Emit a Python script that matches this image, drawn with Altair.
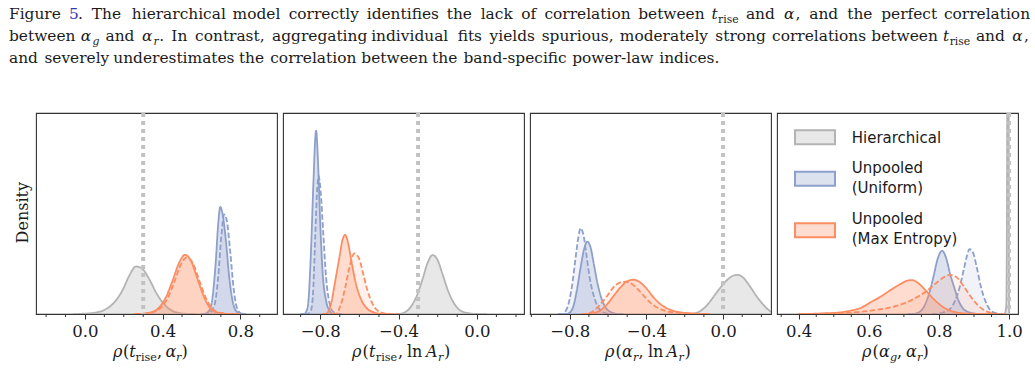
import altair as alt
import pandas as pd

SERIF = "DejaVu Serif"
SANS = "DejaVu Sans"
GRAY, BLUE, ORANGE = "#b3b3b3", "#8da0cb", "#fc8d62"
INK = "#1a1a1a"
LINK = "#3434b4"
FRAME = "#333333"

# ---------------- posterior densities: (rho, density) ----------------
# panel 1: rho(t_rise, alpha_r)
p1_hier = [(-0.06, 0), (-0.021, 0.02), (0.048, 0.15), (0.10, 0.48), (0.151, 1.39), (0.194, 2.86),
           (0.228, 4.57), (0.263, 5.68), (0.297, 5.36), (0.331, 4.17), (0.366, 2.58), (0.40, 1.39),
           (0.434, 0.6), (0.477, 0.16), (0.529, 0.02), (0.57, 0)]
p1_unif = [(0.60, 0), (0.615, 0.02), (0.64, 0.4), (0.657, 1.99), (0.674, 6.35), (0.686, 10.7),
           (0.697, 12.78), (0.709, 11.9), (0.726, 8.73), (0.743, 4.37), (0.76, 1.59), (0.777, 0.4),
           (0.803, 0.02), (0.83, 0)]
p1_unif_alt = [(0.61, 0), (0.632, 0.02), (0.666, 1.0), (0.686, 4.37), (0.703, 9.5), (0.717, 11.9),
               (0.731, 11.1), (0.748, 7.5), (0.765, 3.2), (0.782, 0.8), (0.803, 0.08), (0.83, 0)]
p1_maxent = [(0.25, 0), (0.288, 0.02), (0.34, 0.2), (0.383, 0.8), (0.417, 1.99), (0.451, 3.97),
             (0.486, 6.15), (0.515, 7.07), (0.546, 6.35), (0.58, 4.17), (0.614, 1.99), (0.649, 0.6),
             (0.692, 0.12), (0.735, 0.01), (0.80, 0)]
p1_maxent_alt = [(0.26, 0), (0.297, 0.02), (0.349, 0.2), (0.392, 0.78), (0.426, 1.9), (0.46, 3.8),
                 (0.494, 5.9), (0.524, 6.75), (0.555, 6.1), (0.589, 4.0), (0.623, 1.9), (0.658, 0.58),
                 (0.70, 0.12), (0.745, 0.01), (0.81, 0)]

# panel 2: rho(t_rise, ln A_r)
p2_hier = [(-0.42, 0), (-0.396, 0.02), (-0.362, 0.28), (-0.328, 1.19), (-0.303, 2.38), (-0.277, 4.17),
           (-0.252, 6.07), (-0.226, 7.03), (-0.20, 6.43), (-0.175, 4.76), (-0.15, 2.98), (-0.124, 1.59),
           (-0.094, 0.6), (-0.056, 0.16), (-0.005, 0.01), (0.05, 0)]
p2_unif = [(-0.90, 0), (-0.881, 0.02), (-0.864, 0.8), (-0.847, 7.54), (-0.835, 15.5), (-0.821, 21.9),
           (-0.81, 17.5), (-0.799, 10.3), (-0.787, 4.76), (-0.77, 1.59), (-0.753, 0.4), (-0.736, 0.02),
           (-0.70, 0)]
p2_unif_alt = [(-0.88, 0), (-0.864, 0.02), (-0.847, 0.4), (-0.835, 3.2), (-0.825, 9.5), (-0.815, 15.1),
               (-0.808, 16.5), (-0.798, 14.7), (-0.784, 9.5), (-0.77, 4.37), (-0.753, 1.39),
               (-0.736, 0.32), (-0.711, 0.02), (-0.68, 0)]
p2_maxent = [(-0.79, 0), (-0.77, 0.02), (-0.745, 1.19), (-0.723, 3.97), (-0.702, 6.75), (-0.685, 8.93),
             (-0.673, 9.45), (-0.66, 8.73), (-0.638, 5.96), (-0.617, 3.57), (-0.592, 1.79),
             (-0.566, 0.79), (-0.532, 0.24), (-0.49, 0.02), (-0.45, 0)]
p2_maxent_alt = [(-0.74, 0), (-0.719, 0.05), (-0.694, 1.19), (-0.672, 3.18), (-0.651, 5.56),
                 (-0.626, 7.23), (-0.60, 6.55), (-0.58, 4.76), (-0.558, 2.78), (-0.532, 1.19),
                 (-0.507, 0.4), (-0.473, 0.08), (-0.439, 0.01), (-0.40, 0)]

# panel 3: rho(alpha_r, ln A_r)
p3_hier = [(-0.19, 0), (-0.164, 0.02), (-0.121, 0.32), (-0.086, 0.99), (-0.052, 1.99), (-0.017, 3.06),
           (0.017, 3.97), (0.052, 4.57), (0.074, 4.68), (0.104, 4.37), (0.138, 3.37), (0.173, 2.18),
           (0.207, 1.19), (0.242, 0.4), (0.268, 0.12), (0.30, 0.02)]
p3_unif = [(-0.83, 0), (-0.812, 0.02), (-0.786, 0.6), (-0.763, 2.78), (-0.743, 5.56), (-0.725, 7.74),
           (-0.708, 8.65), (-0.691, 7.94), (-0.674, 5.96), (-0.656, 3.77), (-0.636, 1.99),
           (-0.613, 0.79), (-0.587, 0.24), (-0.553, 0.02), (-0.52, 0)]
p3_unif_alt = [(-0.86, 0), (-0.838, 0.02), (-0.812, 0.79), (-0.789, 3.18), (-0.769, 6.75),
               (-0.755, 9.13), (-0.743, 10.24), (-0.729, 9.53), (-0.713, 7.15), (-0.696, 4.37),
               (-0.677, 2.38), (-0.656, 0.99), (-0.63, 0.28), (-0.596, 0.02), (-0.56, 0)]
p3_maxent = [(-0.72, 0), (-0.70, 0.02), (-0.648, 0.32), (-0.604, 1.19), (-0.57, 2.18), (-0.535, 3.18),
             (-0.501, 3.89), (-0.466, 4.09), (-0.432, 3.77), (-0.397, 2.98), (-0.363, 1.99),
             (-0.328, 1.19), (-0.285, 0.6), (-0.233, 0.24), (-0.164, 0.08), (-0.112, 0.01), (-0.07, 0)]
p3_maxent_alt = [(-0.74, 0), (-0.717, 0.02), (-0.674, 0.4), (-0.639, 1.19), (-0.604, 2.18),
                 (-0.575, 3.1), (-0.544, 3.69), (-0.509, 3.85), (-0.475, 3.57), (-0.44, 2.86),
                 (-0.406, 1.99), (-0.371, 1.19), (-0.328, 0.6), (-0.276, 0.24), (-0.199, 0.08),
                 (-0.147, 0.01), (-0.10, 0)]

# panel 4: rho(alpha_g, alpha_r)
p4_hier = [(0.988, 0), (0.992, 1.0), (0.994, 12), (0.9955, 45), (0.997, 70), (0.9985, 45),
           (0.9995, 8), (1.0, 0)]
p4_unif = [(0.71, 0), (0.728, 0.02), (0.747, 0.32), (0.761, 1.19), (0.773, 2.58), (0.785, 4.57),
           (0.796, 6.55), (0.809, 7.54), (0.82, 6.75), (0.832, 4.76), (0.845, 2.98), (0.856, 1.59),
           (0.87, 0.6), (0.889, 0.16), (0.908, 0.02), (0.93, 0)]
p4_unif_alt = [(0.78, 0), (0.794, 0.02), (0.813, 0.2), (0.832, 0.6), (0.846, 1.59), (0.859, 3.18),
               (0.87, 5.16), (0.88, 6.95), (0.887, 7.74), (0.897, 7.34), (0.908, 5.56), (0.919, 3.37),
               (0.932, 1.59), (0.944, 0.6), (0.957, 0.16), (0.974, 0.02), (0.99, 0)]
p4_maxent = [(0.40, 0), (0.434, 0.02), (0.472, 0.08), (0.51, 0.16), (0.548, 0.4), (0.576, 0.71),
             (0.605, 1.39), (0.633, 2.06), (0.662, 2.86), (0.69, 3.57), (0.709, 3.97), (0.723, 4.05),
             (0.742, 3.65), (0.761, 2.86), (0.785, 1.79), (0.809, 0.91), (0.832, 0.4), (0.861, 0.12),
             (0.889, 0.04), (0.946, 0.01), (0.97, 0)]
p4_maxent_alt = [(0.40, 0), (0.434, 0.01), (0.52, 0.1), (0.605, 0.4), (0.681, 0.99), (0.728, 1.79),
                 (0.766, 2.78), (0.794, 3.77), (0.813, 4.37), (0.832, 4.68), (0.851, 4.37),
                 (0.87, 3.37), (0.889, 2.18), (0.908, 1.19), (0.927, 0.52), (0.946, 0.16),
                 (0.974, 0.02), (0.99, 0)]

true_values = [0.3, -0.3, 0.0, 1.0]
x_domains = [[-0.252, 0.989], [-0.99, 0.241], [-1.007, 0.25], [0.338, 1.0255]]
major_ticks = [[0.0, 0.4, 0.8], [-0.8, -0.4, 0.0], [-0.8, -0.4, 0.0], [0.4, 0.6, 0.8, 1.0]]
minor_ticks = [
    [-0.2, -0.1, 0.1, 0.2, 0.3, 0.5, 0.6, 0.7, 0.9],
    [-0.9, -0.7, -0.6, -0.5, -0.3, -0.2, -0.1, 0.1, 0.2],
    [-1.0, -0.9, -0.7, -0.6, -0.5, -0.3, -0.2, -0.1, 0.1, 0.2],
    [0.35, 0.45, 0.5, 0.55, 0.65, 0.7, 0.75, 0.85, 0.9, 0.95],
]
panel_curves = [
    [p1_hier, p1_unif, p1_unif_alt, p1_maxent, p1_maxent_alt],
    [p2_hier, p2_unif, p2_unif_alt, p2_maxent, p2_maxent_alt],
    [p3_hier, p3_unif, p3_unif_alt, p3_maxent, p3_maxent_alt],
    [p4_hier, p4_unif, p4_unif_alt, p4_maxent, p4_maxent_alt],
]
# model colour, dashed?, fill opacity for the five curves of each panel
curve_styles = [(GRAY, False, 0.3), (BLUE, False, 0.3), (BLUE, True, 0.12),
                (ORANGE, False, 0.3), (ORANGE, True, 0.12)]

legend_labels = [["Hierarchical"], ["Unpooled", "(Uniform)"], ["Unpooled", "(Max Entropy)"]]
legend_fills = ["#e8e8e8", "#dde2ef", "#fedccf"]
legend_edges = [GRAY, BLUE, ORANGE]

# ---------------- caption words: pieces of (text, style) ----------------
def plain(s):
    return [[(w, "rm")] for w in s.split()]


caption_line1 = ([[("Figure", "rm")], [("5", "link"), (".", "rm")]]
                 + plain("The hierarchical model correctly identifies the lack of correlation between")
                 + [[("t", "it"), ("rise", "sub")], [("and", "rm")], [("α", "it"), (",", "rm")]]
                 + plain("and the perfect correlation"))
caption_line2 = ([[("between", "rm")], [("α", "it"), ("g", "subit")], [("and", "rm")],
                  [("α", "it"), ("r", "subit"), (".", "rm")]]
                 + plain("In contrast, aggregating individual fits yields spurious, "
                         "moderately strong correlations between")
                 + [[("t", "it"), ("rise", "sub")], [("and", "rm")], [("α", "it"), (",", "rm")]])
caption_line3 = plain("and severely underestimates the correlation between the band-specific "
                      "power-law indices.")

# ---------------- layout (page pixels) ----------------
W, H, GAP = 241, 201, 6
OX = [35, 35 + (W + GAP), 35 + 2 * (W + GAP), 35 + 3 * (W + GAP)]
OY = 112
DENS_MAX = 24

# Computer-Modern advance widths (em) used to space the caption words like the typeset page
CMR = dict(zip("abcdefghijklmnopqrstuvwxyz",
               [.500, .556, .444, .556, .444, .306, .500, .556, .278, .306, .528, .278, .833,
                .556, .500, .556, .528, .392, .394, .389, .556, .528, .722, .528, .528, .444]))
CMR.update({"F": .653, "T": .722, "I": .361, "A": .750, "5": .500, ".": .278, ",": .278, "-": .333})
CMMI = {"t": .361, "α": .640, "g": .477, "r": .451}
EM, SPACE = 18.2, 0.333
C, S, DROP = 15.4, 10.8, 3.3
MARGIN_L, MARGIN_R = 8, 1028


def piece_width(text, style):
    table = CMMI if style in ("it", "subit") else CMR
    scale = 0.7 if style in ("sub", "subit") else 1.0
    return sum(table.get(ch, 0.5) for ch in text) * EM * scale


def set_line(words, baseline, justify):
    widths = [sum(piece_width(t, s) for t, s in w) for w in words]
    if justify:
        gap = (MARGIN_R - MARGIN_L - sum(widths)) / (len(words) - 1)
    else:
        gap = SPACE * EM
    segs, x = [], MARGIN_L
    for w, wd in zip(words, widths):
        px = x
        for t, s in w:
            sub = s in ("sub", "subit")
            segs.append((t, px, baseline + (DROP if sub else 0), S if sub else C,
                         s in ("it", "subit"), LINK if s == "link" else INK))
            px += piece_width(t, s)
        x += wd + gap
    return segs


caption = (set_line(caption_line1, 18.2, True) + set_line(caption_line2, 40.2, True)
           + set_line(caption_line3, 62.2, False))

# x-axis titles
T, TS, TB = 16, 11.2, 356
axis_titles = [
    [("ρ", 112, TB, T, True), ("(", 122, TB, T, False), ("t", 128.2, TB, T, True),
     ("rise", 134.6, TB + 3.5, TS, False), (",", 155.9, TB, T, False), ("α", 164.5, TB, T, True),
     ("r", 175.1, TB + 3.5, TS, True), (")", 180.4, TB, T, False)],
    [("ρ", 351, TB, T, True), ("(", 361.5, TB, T, False), ("t", 368, TB, T, True),
     ("rise", 374.8, TB + 3.5, TS, False), (",", 397, TB, T, False), ("ln", 406, TB, T, False),
     ("A", 425, TB, T, True), ("r", 437, TB + 3.5, TS, True), (")", 443, TB, T, False)],
    [("ρ", 604, TB, T, True), ("(", 614.5, TB, T, False), ("α", 621, TB, T, True),
     ("r", 632, TB + 3.5, TS, True), (",", 637.5, TB, T, False), ("ln", 647, TB, T, False),
     ("A", 665.5, TB, T, True), ("r", 677.5, TB + 3.5, TS, True), (")", 683.5, TB, T, False)],
    [("ρ", 861, TB, T, True), ("(", 871.5, TB, T, False), ("α", 878, TB, T, True),
     ("g", 889, TB + 3.5, TS, True), (",", 896, TB, T, False), ("α", 905, TB, T, True),
     ("r", 916, TB + 3.5, TS, True), (")", 921.5, TB, T, False)],
]


def text_layers(segs, ox, oy, font=SERIF):
    rows = []
    for s in segs:
        text, x, y, size, italic = s[:5]
        colour = s[5] if len(s) > 5 else INK
        rows.append({"text": text, "px": x - ox, "py": y - oy, "fs": size,
                     "it": italic, "col": colour})
    df = pd.DataFrame(rows)
    layers = []
    for italic in (False, True):
        sub = df[df["it"] == italic]
        if sub.empty:
            continue
        layers.append(
            alt.Chart(sub).mark_text(align="left", baseline="alphabetic", font=font,
                                     fontStyle="italic" if italic else "normal")
            .encode(x=alt.X("px:Q", scale=None), y=alt.Y("py:Q", scale=None),
                    text="text:N", size=alt.Size("fs:Q", scale=None),
                    color=alt.Color("col:N", scale=None))
        )
    return layers


def panel(i):
    xenc = alt.X("rho:Q", title=None,
                 scale=alt.Scale(domain=x_domains[i], nice=False, zero=False),
                 axis=alt.Axis(values=major_ticks[i], format=".1f", tickSize=5, tickWidth=1,
                               tickColor=FRAME, domain=False, grid=False, labelFont=SERIF,
                               labelFontSize=16.5, labelColor=INK, labelBaseline="alphabetic",
                               labelPadding=17, labelFlush=False, labelOverlap=False))
    yenc = alt.Y("dens:Q", title=None, axis=None,
                 scale=alt.Scale(domain=[0, DENS_MAX], nice=False, zero=True))
    layers = []
    for pairs, (colour, dashed, fop) in zip(panel_curves[i], curve_styles):
        df = pd.DataFrame(pairs, columns=["rho", "dens"])
        layers.append(alt.Chart(df).mark_area(color=colour, opacity=fop, interpolate="monotone",
                                               clip=True).encode(x=xenc, y=yenc))
        layers.append(alt.Chart(df).mark_line(color=colour, strokeWidth=1.8, interpolate="monotone",
                                               strokeDash=[5.5, 2.4] if dashed else [1, 0],
                                               clip=True).encode(x=xenc, y=yenc))
    # minor ticks
    minor = pd.DataFrame({"rho": minor_ticks[i]})
    layers.append(alt.Chart(minor).mark_rule(color=FRAME, strokeWidth=1)
                  .encode(x=xenc, y=alt.value(H), y2=alt.value(H + 3)))
    # true value
    truth = pd.DataFrame({"rho": [true_values[i]]})
    layers.append(alt.Chart(truth).mark_rule(color="#c2c2c2", strokeWidth=4, strokeDash=[4, 4],
                                             strokeCap="butt")
                  .encode(x=xenc, y=alt.value(0), y2=alt.value(H)))
    # axis title
    layers += text_layers(axis_titles[i], OX[i], OY)
    return layers


p1 = panel(0)
anchor = alt.Chart(pd.DataFrame({"a": [0]})).mark_rect(opacity=0).encode(
    x=alt.value(-OX[0]), x2=alt.value(-OX[0] + 1), y=alt.value(-OY), y2=alt.value(-OY + 1))
density_lbl = alt.Chart(pd.DataFrame({"text": ["Density"], "px": [27 - OX[0]], "py": [211.7 - OY]})) \
    .mark_text(angle=270, align="center", baseline="alphabetic", font=SERIF, fontSize=16, color=INK) \
    .encode(x=alt.X("px:Q", scale=None), y=alt.Y("py:Q", scale=None), text="text:N")
p1 += text_layers(caption, OX[0], OY) + [density_lbl, anchor]

p4 = panel(3)
# legend inside panel 4
leg_rows = []
patch_tops = [129.3, 170.7, 222.3]
for top, fill, edge in zip(patch_tops, legend_fills, legend_edges):
    leg_rows.append({"x0": 794 - OX[3], "x1": 834 - OX[3], "y0": top - OY, "y1": top + 14 - OY,
                     "fill": fill, "edge": edge})
leg_df = pd.DataFrame(leg_rows)
p4.append(alt.Chart(leg_df).mark_rect(strokeWidth=2).encode(
    x=alt.X("x0:Q", scale=None), x2="x1:Q", y=alt.Y("y0:Q", scale=None), y2="y1:Q",
    fill=alt.Fill("fill:N", scale=None), stroke=alt.Stroke("edge:N", scale=None)))
leg_text = []
baselines = [[141.8], [171.7, 191.7], [223.3, 243.3]]
for lines, bls in zip(legend_labels, baselines):
    for line, bl in zip(lines, bls):
        leg_text.append((line, 850.7, bl, 15, False, INK))
p4 += text_layers(leg_text, OX[3], OY, font=SANS)

panels = [alt.layer(*p1).properties(width=W, height=H),
          alt.layer(*panel(1)).properties(width=W, height=H),
          alt.layer(*panel(2)).properties(width=W, height=H),
          alt.layer(*p4).properties(width=W, height=H)]

chart = alt.hconcat(*panels, spacing=GAP, bounds="flush").properties(
    padding=0, background="white"
).configure_view(stroke=FRAME, strokeWidth=1.1)

chart.save("out.html", embed_options={"renderer": "svg", "actions": False})
